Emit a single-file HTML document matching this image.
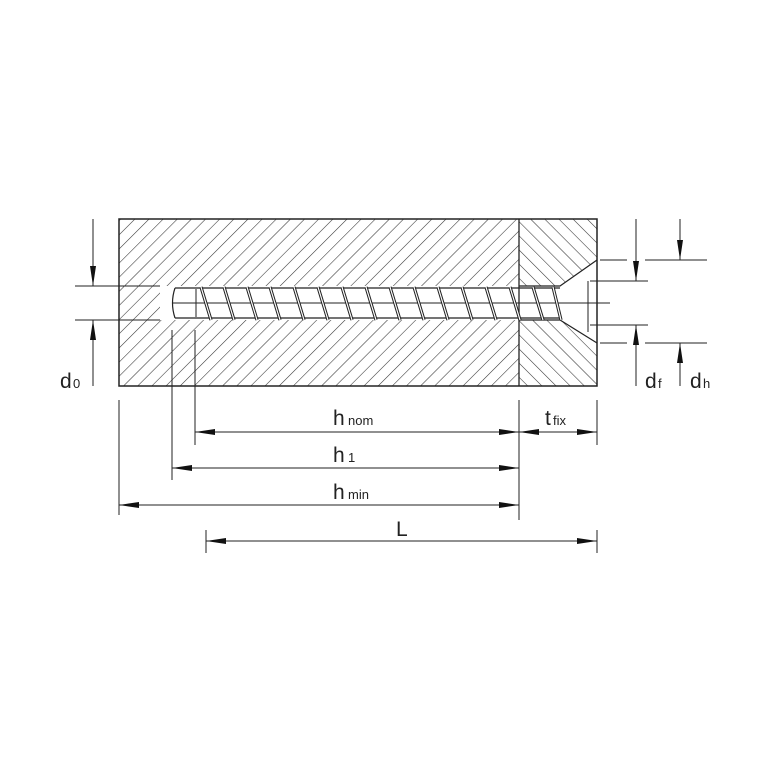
<!DOCTYPE html>
<html><head><meta charset="utf-8"><style>html,body{margin:0;padding:0;background:#fff}svg{display:block}</style></head>
<body>
<svg width="772" height="772" viewBox="0 0 772 772" xmlns="http://www.w3.org/2000/svg" font-family="Liberation Sans, sans-serif" fill="none" stroke="#222">
<defs>
<pattern id="h1" patternUnits="userSpaceOnUse" width="10" height="10" patternTransform="rotate(45)">
<line x1="0" y1="0" x2="0" y2="10" stroke="#333" stroke-width="1.1"/></pattern>
<pattern id="h2" patternUnits="userSpaceOnUse" width="10" height="10" patternTransform="rotate(-45)">
<line x1="0" y1="0" x2="0" y2="10" stroke="#333" stroke-width="1.1"/></pattern>
<marker id="a" viewBox="0 0 20 6" refX="20" refY="3" markerWidth="20" markerHeight="6" markerUnits="userSpaceOnUse" orient="auto-start-reverse"><path d="M0,0 L20,3 L0,6Z" fill="#111" stroke="none"/></marker>
</defs>
<rect x="119" y="219" width="400" height="167" fill="url(#h1)" stroke="none"/>
<rect x="519" y="219" width="78" height="167" fill="url(#h2)" stroke="none"/>
<path d="M160,286 L560,286 L597,260 L597,343 L560,320 L160,320Z" fill="#fff" stroke="none"/>
<rect x="119" y="219" width="478" height="167" stroke-width="1.5"/>
<line x1="519" y1="219" x2="519" y2="386" stroke-width="1.3"/>
<path d="M519,286 L560,286 L597,260 M519,320 L560,320 L597,343" stroke-width="1.2"/>
<line x1="588" y1="281" x2="588" y2="332" stroke-width="1"/>
<path d="M175,288 L560,288 M175,318 L560,318 M175,288 Q170,303 175,318" stroke-width="1.2"/>
<line x1="173" y1="303" x2="610" y2="303" stroke-width="1"/>
<line x1="196" y1="289" x2="196" y2="317" stroke-width="1"/>
<g stroke-width="3.2" stroke="#222">
<path d="M201,287 L211,320 M224,287 L234,320 M247,287 L257,320 M270,287 L280,320 M294,287 L304,320 M318,287 L328,320 M342,287 L352,320 M366,287 L376,320 M390,287 L400,320 M414,287 L424,320 M438,287 L448,320 M462,287 L472,320 M486,287 L496,320 M510,287 L520,320 M533,287 L543,320 M553,287 L561,320"/>
</g>
<g stroke-width="1.2" stroke="#fff">
<path d="M201,287 L211,320 M224,287 L234,320 M247,287 L257,320 M270,287 L280,320 M294,287 L304,320 M318,287 L328,320 M342,287 L352,320 M366,287 L376,320 M390,287 L400,320 M414,287 L424,320 M438,287 L448,320 M462,287 L472,320 M486,287 L496,320 M510,287 L520,320 M533,287 L543,320 M553,287 L561,320"/>
</g>
<path d="M75,286 L160,286 M75,320 L160,320" stroke-width="1"/>
<line x1="93" y1="219" x2="93" y2="286" stroke-width="1" marker-end="url(#a)"/>
<line x1="93" y1="386" x2="93" y2="320" stroke-width="1" marker-end="url(#a)"/>
<path d="M590,281 L648,281 M590,325 L648,325 M600,260 L627,260 M645,260 L707,260 M600,343 L627,343 M645,343 L707,343" stroke-width="1"/>
<line x1="636" y1="219" x2="636" y2="281" stroke-width="1" marker-end="url(#a)"/>
<line x1="636" y1="386" x2="636" y2="325" stroke-width="1" marker-end="url(#a)"/>
<line x1="680" y1="219" x2="680" y2="260" stroke-width="1" marker-end="url(#a)"/>
<line x1="680" y1="386" x2="680" y2="343" stroke-width="1" marker-end="url(#a)"/>
<path d="M119,400 L119,515 M172,330 L172,480 M195,330 L195,445 M519,400 L519,520 M597,400 L597,445 M206,530 L206,553 M597,530 L597,553" stroke-width="1"/>
<line x1="195" y1="432" x2="519" y2="432" stroke-width="1" marker-start="url(#a)" marker-end="url(#a)"/>
<line x1="519" y1="432" x2="597" y2="432" stroke-width="1" marker-start="url(#a)" marker-end="url(#a)"/>
<line x1="172" y1="468" x2="519" y2="468" stroke-width="1" marker-start="url(#a)" marker-end="url(#a)"/>
<line x1="119" y1="505" x2="519" y2="505" stroke-width="1" marker-start="url(#a)" marker-end="url(#a)"/>
<line x1="206" y1="541" x2="597" y2="541" stroke-width="1" marker-start="url(#a)" marker-end="url(#a)"/>
<g fill="#222" stroke="none" font-size="21">
<text x="333" y="425">h</text><text x="348" y="425" font-size="13">nom</text>
<text x="333" y="462">h</text><text x="348" y="462" font-size="13">1</text>
<text x="333" y="499">h</text><text x="348" y="499" font-size="13">min</text>
<text x="396" y="536">L</text>
<text x="545" y="425">t</text><text x="553" y="425" font-size="13">fix</text>
<text x="60" y="388">d</text><text x="73" y="388" font-size="13">0</text>
<text x="645" y="388">d</text><text x="658" y="388" font-size="13">f</text>
<text x="690" y="388">d</text><text x="703" y="388" font-size="13">h</text>
</g>
</svg>
</body></html>
